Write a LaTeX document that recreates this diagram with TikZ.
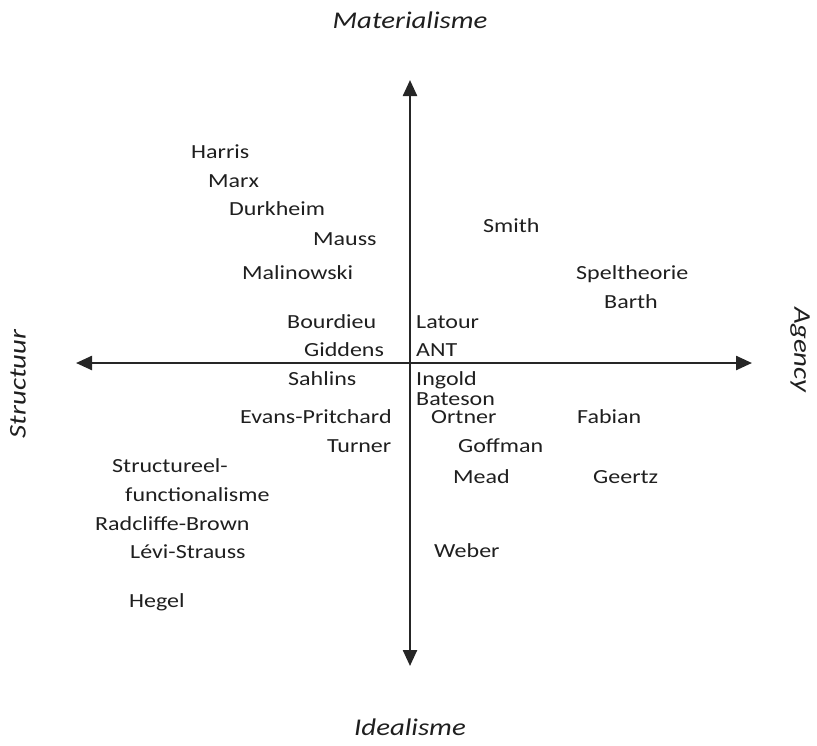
\documentclass[tikz,border=0pt]{standalone}
\usepackage{fontspec}
\setmainfont[FakeStretch=1.2]{Carlito}
\usetikzlibrary{arrows.meta}
\begin{document}
\begin{tikzpicture}[x=1pt,y=-1pt,
  lbl/.style={inner sep=0pt,anchor=base west,font=\fontsize{20}{22}\selectfont,text=black!88},
  axlbl/.style={inner sep=0pt,font=\fontsize{24}{26}\selectfont\itshape,text=black!88},
  axis/.style={line width=2.4pt,black!85,-{Triangle[length=16pt,width=14pt]}}]
\useasboundingbox (0,0) rectangle (817,745);
\coordinate (o) at (410,363);
\coordinate (top) at (410,80);
\coordinate (bot) at (410,666);
\coordinate (lft) at (76,363);
\coordinate (rgt) at (752,363);
\draw[axis] (o) -- (top);
\draw[axis] (o) -- (bot);
\draw[axis] (o) -- (lft);
\draw[axis] (o) -- (rgt);
\node[axlbl] (mat) at (410,20) {Materialisme};
\node[axlbl] (ide) at (410,727) {Idealisme};
\node[axlbl,rotate=90] (str) at (18,384) {Structuur};
\node[axlbl,rotate=-90] (agc) at (800,350) {Agency};
\node[lbl] (harris) at (191,158) {Harris};
\node[lbl] (marx) at (208,187) {Marx};
\node[lbl] (durk) at (229,215) {Durkheim};
\node[lbl] (mauss) at (313,245) {Mauss};
\node[lbl] (mal) at (242,279) {Malinowski};
\node[lbl] (smith) at (483,232) {Smith};
\node[lbl] (spel) at (576,279) {Speltheorie};
\node[lbl] (barth) at (604,308) {Barth};
\node[lbl] (bour) at (287,328) {Bourdieu};
\node[lbl] (gidd) at (304,356) {Giddens};
\node[lbl] (sahl) at (288,385) {Sahlins};
\node[lbl] (evans) at (240,423) {Evans-Pritchard};
\node[lbl] (turner) at (327,452) {Turner};
\node[lbl] (latour) at (416,328) {Latour};
\node[lbl] (ant) at (416,356) {ANT};
\node[lbl] (ingold) at (416,385) {Ingold};
\node[lbl] (bateson) at (416,405) {Bateson};
\node[lbl] (ortner) at (431,423) {Ortner};
\node[lbl] (goff) at (458,452) {Goffman};
\node[lbl] (mead) at (453,483) {Mead};
\node[lbl] (weber) at (434,557) {Weber};
\node[lbl] (fabian) at (577,423) {Fabian};
\node[lbl] (geertz) at (593,483) {Geertz};
\node[lbl] (sf1) at (112,472) {Structureel-};
\node[lbl] (sf2) at (125,501) {functionalisme};
\node[lbl] (rb) at (95,530) {Radcliffe-Brown};
\node[lbl] (ls) at (130,558) {Lévi-Strauss};
\node[lbl] (hegel) at (129,607) {Hegel};
\end{tikzpicture}
\end{document}
